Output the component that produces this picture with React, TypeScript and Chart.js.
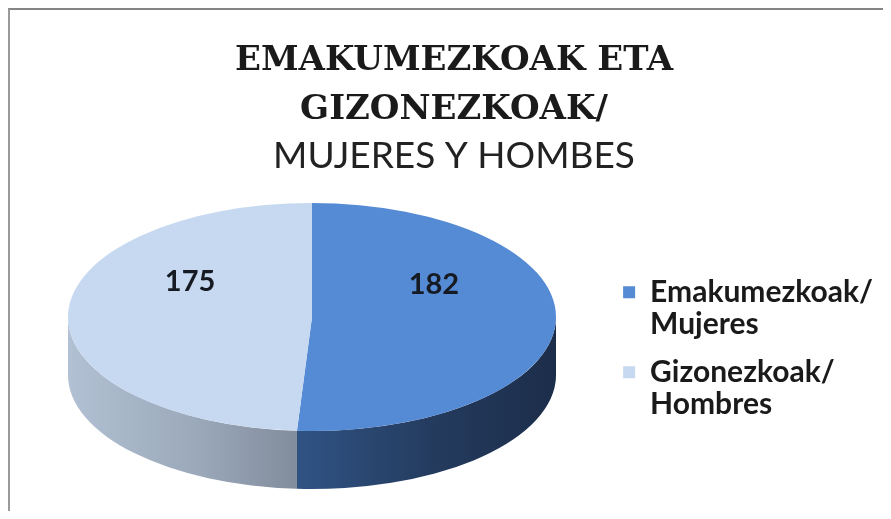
import React, { useEffect, useRef } from 'react';
import { Chart, registerables } from 'chart.js';

Chart.register(...registerables);

// ---- data ----
const categories: string[][] = [
  ['Emakumezkoak/', 'Mujeres'],
  ['Gizonezkoak/', 'Hombres'],
];
const values: number[] = [182, 175];
const titleLines: string[] = ['EMAKUMEZKOAK ETA', 'GIZONEZKOAK/'];
const subtitleText = 'MUJERES Y HOMBES';

// ---- styles ----
const topColors = ['#558AD4', '#C6D9F0'];
const sideStops: [number, string][][] = [
  [[0, '#3A62A0'], [0.48, '#2F5283'], [0.75, '#243B5E'], [1, '#1C2D4A']],
  [[0, '#B2C0D3'], [0.27, '#9AA8BA'], [0.5, '#7E8897'], [1, '#6A7483']],
];
// ellipse geometry of the tilted pie (canvas pixels)
const PIE = { cx: 302, cy: 307, rx: 244, ry: 114, depth: 58, labelLift: 34 };

const pie3d = {
  id: 'pie3d',
  beforeDatasetsDraw(chart: any) {
    const ctx: CanvasRenderingContext2D = chart.ctx;
    const meta = chart.getDatasetMeta(0);
    const a0 = meta.data[0];
    const cx = a0.x, cy = a0.y, R = a0.outerRadius;
    meta.data.forEach((arc: any, i: number) => {
      const b0 = Math.max(arc.startAngle, 0);
      const b1 = Math.min(arc.endAngle, Math.PI);
      if (b1 <= b0) return;
      const g = ctx.createLinearGradient(PIE.cx - PIE.rx, 0, PIE.cx + PIE.rx, 0);
      sideStops[i].forEach(([o, c]) => g.addColorStop(o, c));
      ctx.save();
      ctx.beginPath();
      ctx.ellipse(PIE.cx, PIE.cy, PIE.rx, PIE.ry, 0, b0, b1);
      ctx.ellipse(PIE.cx, PIE.cy + PIE.depth, PIE.rx, PIE.ry, 0, b1, b0, true);
      ctx.closePath();
      ctx.fillStyle = g;
      ctx.fill();
      ctx.restore();
    });
    ctx.save();
    ctx.translate(PIE.cx, PIE.cy);
    ctx.scale(PIE.rx / R, PIE.ry / R);
    ctx.translate(-cx, -cy);
  },
  afterDatasetsDraw(chart: any) {
    const ctx: CanvasRenderingContext2D = chart.ctx;
    ctx.restore();
    const meta = chart.getDatasetMeta(0);
    const a0 = meta.data[0];
    const cx = a0.x, cy = a0.y, R = a0.outerRadius;
    ctx.save();
    ctx.font = 'bold 29px Lato';
    ctx.fillStyle = '#161a22';
    ctx.textAlign = 'center';
    ctx.textBaseline = 'middle';
    meta.data.forEach((arc: any, i: number) => {
      const p = arc.tooltipPosition();
      const X = PIE.cx + (p.x - cx) * PIE.rx / R;
      const Y = PIE.cy + (p.y - cy) * PIE.ry / R - PIE.labelLift;
      ctx.fillText(String(values[i]), X, Y);
    });
    ctx.restore();
  },
};

export default function App() {
  const ref = useRef<HTMLCanvasElement>(null);
  useEffect(() => {
    if (!ref.current) return;
    const chart = new Chart(ref.current, {
      type: 'pie',
      data: {
        labels: categories.map((c) => c.join(' ')),
        datasets: [
          {
            data: values,
            backgroundColor: topColors,
            borderWidth: 0,
            clip: false,
          } as any,
        ],
      },
      options: {
        responsive: false,
        animation: false,
        devicePixelRatio: 1,
        events: [],
        layout: { padding: { left: 15, right: 0, top: 0, bottom: 0 } },
        plugins: {
          tooltip: { enabled: false },
          title: {
            display: true,
            text: titleLines,
            color: '#1a1a1a',
            font: { family: 'DejaVu Serif', size: 34, weight: 'bold', lineHeight: 1.46 },
            padding: { top: 26, bottom: 0 },
          },
          subtitle: {
            display: true,
            text: subtitleText,
            color: '#222222',
            font: { family: 'Lato', size: 37, weight: 'normal', lineHeight: 1.0 },
            padding: { top: 2, bottom: 14 },
          },
          legend: {
            display: true,
            position: 'right',
            align: 'center',
            fullSize: false,
            labels: {
              boxWidth: 12,
              boxHeight: 12,
              padding: 15,
              color: '#1a1a1a',
              font: { family: 'Lato', size: 30, weight: 'bold', lineHeight: 1.08 },
              generateLabels: () =>
                categories.map((c, i) => ({
                  text: c as any,
                  fillStyle: topColors[i],
                  strokeStyle: topColors[i],
                  lineWidth: 0,
                  hidden: false,
                  index: i,
                  fontColor: '#1a1a1a',
                })),
            },
          },
        },
      } as any,
      plugins: [pie3d],
    });
    return () => chart.destroy();
  }, []);
  return (
    <div
      style={{
        borderTop: '2px solid #858585',
        borderLeft: '2px solid #9a9a9a',
        width: 873,
        height: 501,
        background: '#ffffff',
      }}
    >
      <canvas ref={ref} width={873} height={501} style={{ display: 'block' }} />
    </div>
  );
}
